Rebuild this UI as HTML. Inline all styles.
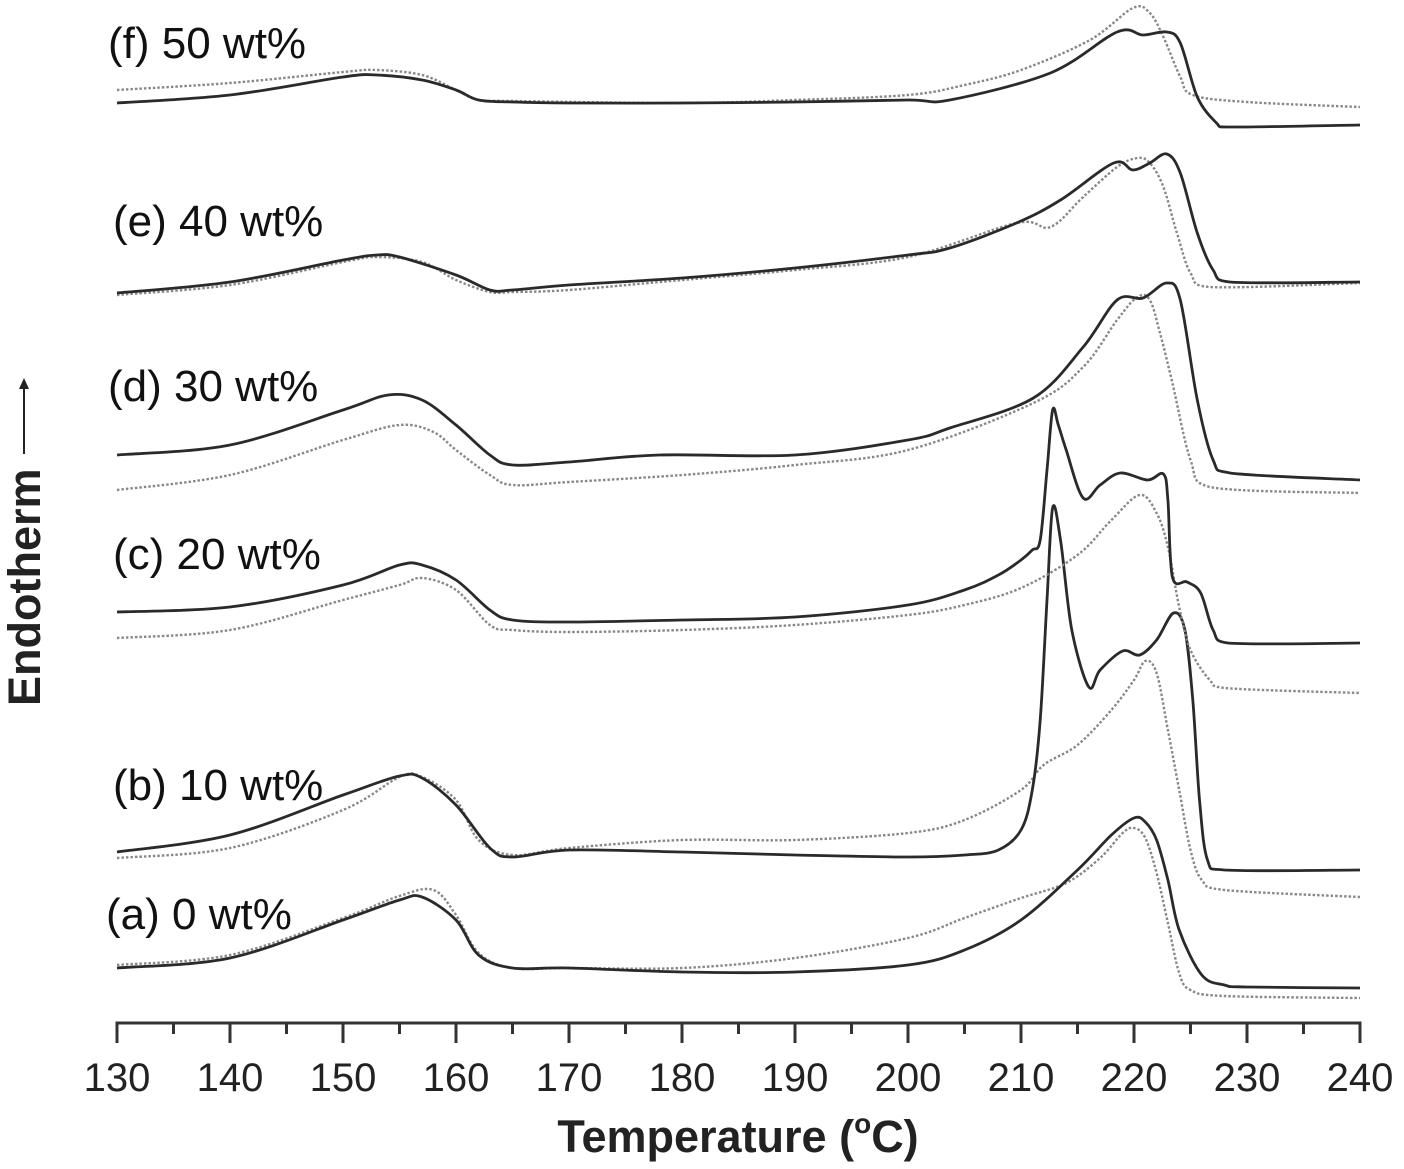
<!DOCTYPE html>
<html><head><meta charset="utf-8"><style>
html,body{margin:0;padding:0;background:#fff;}
svg{display:block;font-family:"Liberation Sans",Arial,sans-serif;}
</style></head><body>
<svg id="chart" width="1404" height="1169" viewBox="0 0 1404 1169" xmlns="http://www.w3.org/2000/svg">
<g id="axis"></g>
<g id="curves"></g>
<g id="labels"></g>
<text x="738" y="1152" text-anchor="middle" font-size="45" font-weight="bold" fill="#222">Temperature (<tspan font-size="28" dy="-19">o</tspan><tspan dy="19">C)</tspan></text>
<g transform="translate(40,706) rotate(-90)">
<text x="0" y="0" font-size="45" font-weight="bold" fill="#222">Endotherm</text>
<line x1="252" y1="-16" x2="325" y2="-16" stroke="#222" stroke-width="2"/>
<path d="M328,-16 l-11,-5 l0,10 z" fill="#222"/>
</g>
</svg>
<script>
// x-axis ticks
const majorTicks = [130,140,150,160,170,180,190,200,210,220,230,240];
const minorTicks = [135,145,155,165,175,185,195,205,215,225,235];
// series labels
const seriesNames = ["(a) 0 wt%","(b) 10 wt%","(c) 20 wt%","(d) 30 wt%","(e) 40 wt%","(f) 50 wt%"];
// temperatures and signal values (signal in arbitrary units, up = endotherm)
const aSolidT = [130,140,150,155,157,160,162,165,170,180,190,200,205,210,215,218,220,221,222,223,224,226,228,230,240];
const aSolidV = [55,65,103,123,126,103,68,55,55,51,51,58,73,103,153,188,205,201,183,143,93,48,38,36,35];
const aDotT = [130,140,150,155,158,160,162,165,170,180,190,200,205,210,214,217,219,220,221,222,223,224,225,228,240];
const aDotV = [58,68,105,127,133,108,70,55,55,55,65,85,105,125,140,165,190,195,185,150,100,50,33,27,25];
const bSolidT = [130,140,150,155,157,160,163,165,170,180,190,200,205,208,210,211,211.7,212.3,212.8,213.5,214.5,216,217,219,220.5,222,223.5,224.5,225.2,225.8,226.5,228,240];
const bSolidV = [171,188,228,247,245,218,175,166,173,171,168,166,168,173,193,233,303,423,515,483,393,336,353,372,368,383,410,393,323,223,163,153,153];
const bDotT = [130,140,150,155,157,160,162,165,170,180,190,200,205,210,212,215,218,220,221,222,223,224,225,226,228,240];
const bDotV = [165,175,213,246,246,223,183,168,175,183,183,190,203,233,258,278,313,343,362,350,293,233,173,143,133,126];
const cSolidT = [130,140,150,155,157,160,163,165,170,180,190,200,205,208,210,211,211.7,212.3,212.8,213.3,214,215.5,217,218.8,221.2,222.6,223,223.4,224.7,225.9,227,228.3,240];
const cSolidV = [411,416,438,458,458,443,413,403,401,403,406,418,433,448,463,473,483,553,613,598,573,525,538,550,543,549,523,446,441,430,393,380,380];
const cDotT = [130,140,150,155,157,160,163,165,170,180,190,200,205,210,215,218,220.5,222,223,224,225,226.7,228,240];
const cDotV = [385,393,423,438,445,433,398,393,391,393,398,408,418,435,468,503,528,510,476,416,373,343,335,330];
const dSolidT = [130,140,150,154,157,160,163,165,170,178,190,200,203.7,211.1,215.5,218.5,220.8,222.9,224.1,225.6,227,228.5,240];
const dSolidV = [568,578,613,628,623,598,568,558,561,568,568,583,595,625,676,723,725,740,723,623,563,550,543];
const dDotT = [130,140,150,155,158,160,163,165,170,180,190,200,211.1,215.5,218.5,220.3,221.4,222.3,223.4,225,226.7,240];
const dDotV = [533,548,583,598,591,573,548,538,541,548,558,573,620,656,703,726,723,690,640,563,536,530];
const eSolidT = [130,140,150,153,155,160,163,165,170,180,190,200,203.7,209.6,213.5,218.2,219.9,221.4,222.9,224.1,225.6,227,228.5,240];
const eSolidV = [730,741,763,768,766,748,733,733,738,745,755,768,775,800,823,860,853,860,869,850,790,753,741,741];
const eDotT = [130,140,150,153,157,160,163,165,170,180,190,200,209.6,212.6,215.5,218.5,220.3,221.4,222.6,223.8,225,226.7,240];
const eDotV = [728,738,761,766,761,743,731,731,733,743,753,766,800,796,826,856,865,860,836,790,750,736,740];
const fSolidT = [130,140,150,153,157,160,162,165,170,180,190,200,203.7,212.6,218.5,220.8,222.9,224.1,225.6,227.3,228.2,240];
const fSolidV = [920,928,946,948,943,933,923,921,920,920,921,923,923,950,991,988,991,980,926,900,896,898];
const fDotT = [130,140,150,153,157,160,162,165,180,190,200,205,210,216.1,219.9,221.4,222.6,224.1,225.2,230,240];
const fDotV = [933,940,951,953,948,933,923,922,920,923,928,938,953,983,1015,1010,986,946,928,921,916];

const NS = "http://www.w3.org/2000/svg";
const X0 = 117, X1 = 1360, TMIN = 130, TMAX = 240, AXIS_Y = 1023;
function xScale(t){ return X0 + (t - TMIN) / (TMAX - TMIN) * (X1 - X0); }
function yScale(v){ return AXIS_Y - v; }

const axis = document.getElementById('axis');
function mk(tag, attrs, parent){ const e = document.createElementNS(NS, tag); for (const k in attrs) e.setAttribute(k, attrs[k]); parent.appendChild(e); return e; }
const axLine = mk('line', {x1:X0-1.5, x2:X1+1.5, y1:AXIS_Y, y2:AXIS_Y, stroke:'#333', 'stroke-width':3}, axis);


majorTicks.forEach(t => {
  const tk = mk('line', {x1:xScale(t), x2:xScale(t), y1:AXIS_Y, y2:AXIS_Y+20, stroke:'#333', 'stroke-width':3}, axis);
  
  
  const lb = mk('text', {x:xScale(t), y:1091, 'text-anchor':'middle', 'font-size':40, fill:'#222'}, axis);
  lb.textContent = t;
  
  
});
minorTicks.forEach(t => {
  const tk = mk('line', {x1:xScale(t), x2:xScale(t), y1:AXIS_Y, y2:AXIS_Y+11, stroke:'#333', 'stroke-width':3}, axis);
  
  
});

function pathFor(T, V){
  const p = T.map((t,i)=>[xScale(t), yScale(V[i])]);
  let d = 'M' + p[0][0].toFixed(1) + ',' + p[0][1].toFixed(1);
  for (let i=0;i<p.length-1;i++){
    const p0 = p[Math.max(0,i-1)], p1 = p[i], p2 = p[i+1], p3 = p[Math.min(p.length-1,i+2)];
    const k = 6;
    const c1 = [p1[0] + (p2[0]-p0[0])/k, p1[1] + (p2[1]-p0[1])/k];
    const c2 = [p2[0] - (p3[0]-p1[0])/k, p2[1] - (p3[1]-p1[1])/k];
    c1[0] = Math.min(Math.max(c1[0], p1[0]), p2[0]);
    c2[0] = Math.min(Math.max(c2[0], p1[0]), p2[0]);
    d += ' C' + c1[0].toFixed(1)+','+c1[1].toFixed(1)+' '+c2[0].toFixed(1)+','+c2[1].toFixed(1)+' '+p2[0].toFixed(1)+','+p2[1].toFixed(1);
  }
  return d;
}
const curves = document.getElementById('curves');
const series = [
  ['a',aSolidT,aSolidV,aDotT,aDotV],['b',bSolidT,bSolidV,bDotT,bDotV],['c',cSolidT,cSolidV,cDotT,cDotV],
  ['d',dSolidT,dSolidV,dDotT,dDotV],['e',eSolidT,eSolidV,eDotT,eDotV],['f',fSolidT,fSolidV,fDotT,fDotV]
];
series.forEach(s => {
  const dp = mk('path', {d:pathFor(s[3], s[4]), fill:'none', stroke:'#888', 'stroke-width':2.4, 'stroke-dasharray':'2.5,2'}, curves);
  
  
  const sp = mk('path', {d:pathFor(s[1], s[2]), fill:'none', stroke:'#2a2a2a', 'stroke-width':2.8, 'stroke-linejoin':'round'}, curves);
  
  
});

const labels = document.getElementById('labels');
const labelPos = [[106,929],[113,800],[113,569],[108,401],[113,236],[108,58]];
seriesNames.forEach((n,i) => {
  const t = mk('text', {x:labelPos[i][0], y:labelPos[i][1], 'font-size':44, fill:'#111'}, labels);
  t.textContent = n;
  
  
});
</script>
</body></html>
